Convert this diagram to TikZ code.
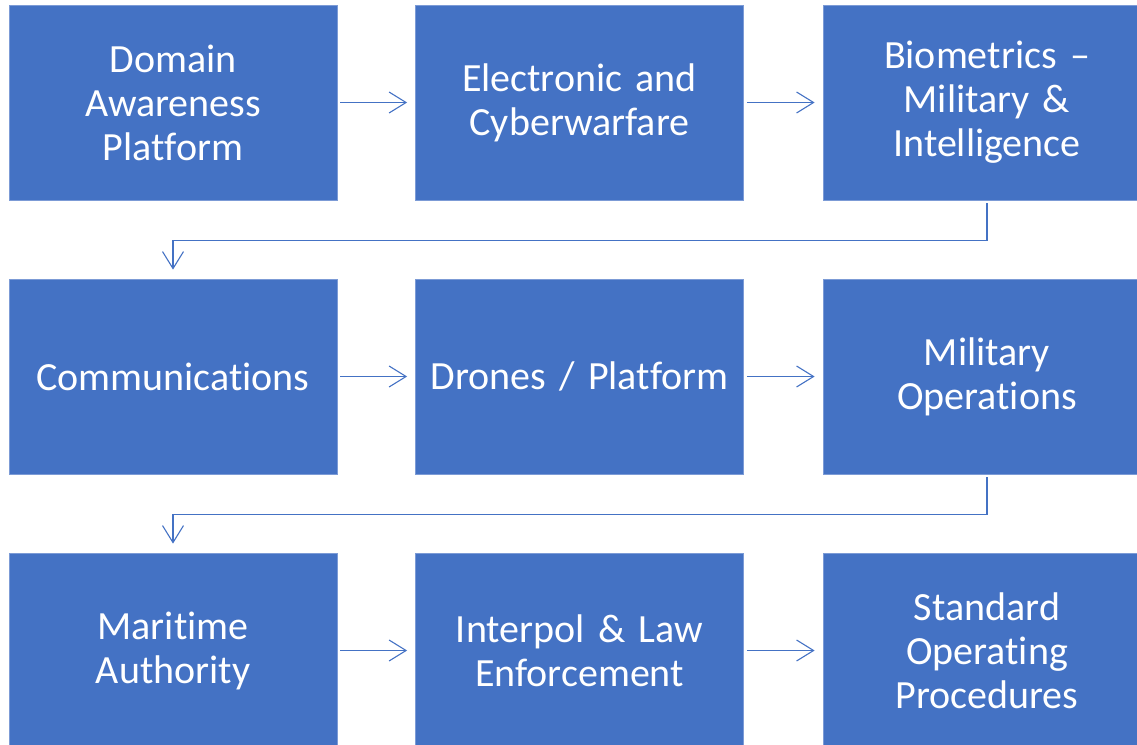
\documentclass[tikz,border=0pt]{standalone}
\usepackage{fontspec}
\setmainfont{Carlito}[Ligatures=NoCommon]
\usetikzlibrary{arrows.meta}
\definecolor{boxblue}{HTML}{4472C4}
\definecolor{edgeblue}{HTML}{7C9BD6}
\newcommand{\boxfont}{\fontsize{40}{44}\selectfont\spaceskip=5pt\relax\xspaceskip=5pt\relax}
\tikzset{
  box/.style={draw=edgeblue, line width=0.8pt, fill=boxblue, minimum width=328pt, minimum height=195pt,
    inner sep=0pt, text=white, align=center, text width=320pt, font=\boxfont},
  link/.style={draw=boxblue, line width=1.1pt, -{Straight Barb[length=17pt,width=21pt,line width=1.1pt]}}
}
\begin{document}
\begin{tikzpicture}[x=1pt,y=-1pt]
\useasboundingbox (0,0) rectangle (1137,744);
\begin{scope}
\clip (0,0) rectangle (1137,744);
\node[box] (a) at (173,102.5) {Domain\\Awareness\\Platform};
\node[box] (b) at (579.5,102.5) {Electronic and\\Cyberwarfare};
\node[box] (c) at (987,102.5) {Biometrics --\\Military \&\\Intelligence};
\node[box] (d) at (173,376.5) {Communications};
\node[box] (e) at (579.5,376.5) {Drones / Platform};
\node[box] (f) at (987,376.5) {Military\\Operations};
\node[box] (g) at (173,650.5) {Maritime\\Authority};
\node[box] (h) at (579.5,650.5) {Interpol \& Law\\Enforcement};
\node[box] (i) at (987,650.5) {Standard\\Operating\\Procedures};
\end{scope}
\draw[link] ([xshift=3pt]a.east) -- ([xshift=-8pt]b.west);
\draw[link] ([xshift=3pt]b.east) -- ([xshift=-8pt]c.west);
\draw[link] ([xshift=3pt]d.east) -- ([xshift=-8pt]e.west);
\draw[link] ([xshift=3pt]e.east) -- ([xshift=-8pt]f.west);
\draw[link] ([xshift=3pt]g.east) -- ([xshift=-8pt]h.west);
\draw[link] ([xshift=3pt]h.east) -- ([xshift=-8pt]i.west);
\draw[link] ([yshift=-3pt]c.south) -- ++(0,37) -| ([yshift=9pt]d.north);
\draw[link] ([yshift=-3pt]f.south) -- ++(0,37) -| ([yshift=9pt]g.north);
\end{tikzpicture}
\end{document}
